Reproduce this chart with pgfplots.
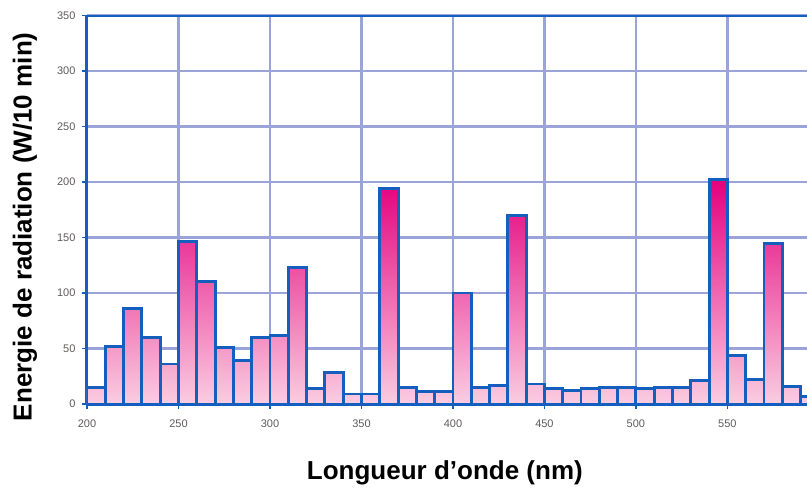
\documentclass[border=0pt]{standalone}
\usepackage{pgfplots}
\pgfplotsset{compat=1.18}
\usepackage{fontspec}
\setmainfont{Liberation Sans}
\usetikzlibrary{calc}
\definecolor{axblue}{RGB}{20,95,190}
\definecolor{gridc}{RGB}{155,164,216}
\definecolor{ticklab}{RGB}{95,90,90}
\definecolor{bartop}{RGB}{228,0,125}
\definecolor{barbot}{RGB}{250,205,225}
\pgfplotstableread{
x y
200 15
210 52
220 86
230 60
240 36
250 146
260 110
270 51
280 39
290 60
300 62
310 123
320 14
330 28
340 9
350 9
360 194
370 15
380 11
390 11
400 100
410 15
420 17
430 170
440 18
450 14
460 12
470 14
480 15
490 15
500 14
510 15
520 15
530 21
540 202
550 44
560 22
570 145
580 16
590 7
600 7
}\spectrum
\begin{document}
\begin{tikzpicture}
\begin{axis}[
  scale only axis,
  width=720bp, height=388.5bp,
  xmin=200, xmax=593.5,
  ymin=0, ymax=350,
  xtick={200,250,...,550},
  ytick={0,50,...,350},
  axis lines*=left,
  axis line style={draw=axblue, line width=3bp},
  tick align=outside,
  major tick length=5bp,
  tick style={draw=axblue, line width=1.8bp},
  grid=major,
  major grid style={draw=gridc, line width=2.2bp},
  /pgf/number format/assume math mode=true,
  /pgf/number format/set thousands separator={},
  ticklabel style={font=\fontsize{11bp}{12bp}\selectfont, text=ticklab},
  xticklabel style={yshift=-7bp},
  yticklabel style={xshift=-3bp},
  xlabel={Longueur d’onde (nm)},
  ylabel={Energie de radiation (W/10 min)},
  label style={font=\fontsize{26bp}{30bp}\selectfont\bfseries},
  xlabel style={at={(axis description cs:0.497,-0.1763)}, anchor=center},
  ylabel style={at={(axis description cs:-0.0861,0.4562)}, anchor=center},
]
\addplot[ybar interval, draw=axblue, line width=2.9bp, top color=bartop, bottom color=barbot] table[x=x,y=y] {\spectrum};
\draw[axblue, line width=2.4bp] (rel axis cs:0,1) -- (rel axis cs:1,1);
\coordinate (sw) at (rel axis cs:0,0);
\coordinate (ne) at (rel axis cs:1,1);
\end{axis}
\pgfresetboundingbox
\path[use as bounding box] ($(sw)+(-87bp,-84bp)$) rectangle ($(ne)+(0,15.5bp)$);
\end{tikzpicture}
\end{document}
